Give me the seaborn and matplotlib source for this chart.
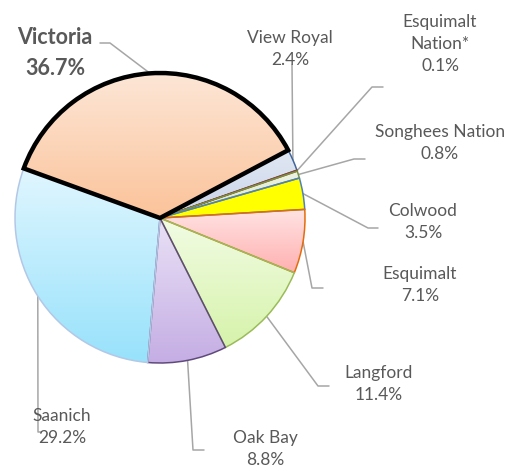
import numpy as np
import matplotlib
matplotlib.use('Agg')
import matplotlib.pyplot as plt
from matplotlib.colors import LinearSegmentedColormap
import seaborn as sns

# data
names = ['Victoria', 'View Royal', 'Esquimalt\nNation*', 'Songhees Nation', 'Colwood',
         'Esquimalt', 'Langford', 'Oak Bay', 'Saanich']
shares = [36.7, 2.4, 0.1, 0.8, 3.5, 7.1, 11.4, 8.8, 29.2]

# styling (top colour, bottom colour, edge colour)
top_colors = ['#fde6d6', '#e1e8f3', '#f2dcdb', '#eef3e3', '#ffff00', '#ffe3e3', '#f2fce4', '#e9e1f6', '#e0f6ff']
bottom_colors = ['#fbc39a', '#c8d3e8', '#e6b9b8', '#d7e4bd', '#ffff00', '#ffb0b0', '#d6f3ab', '#c5aee4', '#98e2fb']
edge_colors = ['black', '#41669c', '#953735', '#77933c', '#4f81bd', '#e46c0a', '#9bbb59', '#604a7b', '#b3c8e6']
edge_widths = [3.2, 1.1, 1.1, 1.1, 1.1, 1.1, 1.1, 1.1, 1.1]

# label layout in pixels: text centre, elbow point, end of the short horizontal tick
text_pos = [(55, 53), (290, 49), (440, 44), (440, 143), (423, 222), (420, 285), (379, 384), (265, 449), (62, 427)]
elbows = [(110, 43), None, (372, 87), (354, 159), (368, 228), (312, 288), (318, 386), (193, 450), (38, 432)]
tick_ends = [(100, 43), (292, 65), (383, 87), (365, 159), (378, 228), (323, 288), (329, 386), (204, 450), (41, 432)]

W, H = 517, 470
cx, cy, r = 160, 218, 145

sns.set_theme(style='white')
plt.rcParams['font.family'] = ['Lato', 'DejaVu Sans']

fig = plt.figure(figsize=(W / 100, H / 100), dpi=100)
ax = fig.add_axes([0, 0, 1, 1])

wedges, _ = ax.pie(shares, startangle=160, counterclock=False, center=(cx, H - cy), radius=r,
                   colors=['none'] * len(shares), frame=True)

for i, w in enumerate(wedges):
    w.set_edgecolor(edge_colors[i])
    w.set_linewidth(edge_widths[i])
    w.set_zorder(3 + (1 if i == 0 else 0))
    w.set_joinstyle('miter')
    bb = w.get_patch_transform().transform_path(w.get_path()).get_extents()
    cmap = LinearSegmentedColormap.from_list('g%d' % i, [bottom_colors[i], top_colors[i]])
    grad = np.linspace(1, 0, 64).reshape(-1, 1)
    im = ax.imshow(grad, cmap=cmap, extent=(bb.x0, bb.x1, bb.y0, bb.y1), aspect='auto',
                   interpolation='bicubic', zorder=2)
    im.set_clip_path(w)

ax.set_xlim(0, W)
ax.set_ylim(0, H)
ax.set_aspect('equal')
ax.axis('off')

line_col = '#a6a6a6'
for i, w in enumerate(wedges):
    mid = np.deg2rad((w.theta1 + w.theta2) / 2)
    ax_pt = (cx + r * np.cos(mid), cy - r * np.sin(mid))
    pts = [ax_pt] + ([elbows[i]] if elbows[i] else []) + [tick_ends[i]]
    xs = [p[0] for p in pts]
    ys = [H - p[1] for p in pts]
    ax.plot(xs, ys, color=line_col, lw=1.1, zorder=1)
    label = f'{names[i]}\n{shares[i]:.1f}%'
    tx, ty = text_pos[i]
    if i == 0:
        ax.text(tx, H - ty, label, ha='center', va='center', fontsize=15.5, fontweight='bold',
                color='#595959', linespacing=1.6, zorder=5)
    else:
        ax.text(tx, H - ty, label, ha='center', va='center', fontsize=12.5,
                color='#595959', linespacing=1.45, zorder=5)

fig.savefig('out.png', dpi=100)
